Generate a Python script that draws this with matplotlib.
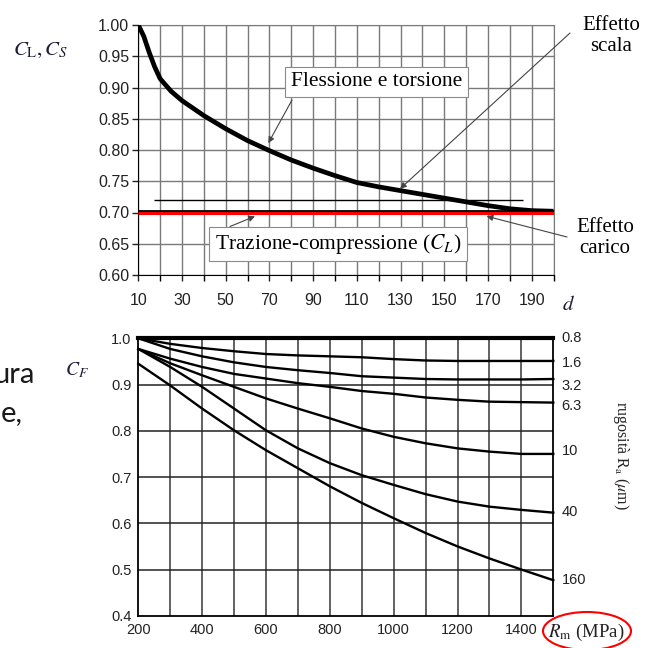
import matplotlib.pyplot as plt
from matplotlib.patches import Ellipse

plt.rcParams['mathtext.fontset'] = 'stix'

# --- top chart: size effect factor C_S vs diameter d ---
d = [10, 12.5, 15, 17.5, 20, 25, 30, 40, 50, 60, 70, 80, 90, 100, 110, 120,
     130, 140, 150, 160, 170, 180, 190, 200]
c_s = [1.00, 0.982, 0.956, 0.933, 0.914, 0.894, 0.879, 0.855, 0.834, 0.815, 0.799,
       0.784, 0.771, 0.759, 0.748, 0.741, 0.735, 0.729, 0.723, 0.717, 0.711,
       0.706, 0.703, 0.702]
c_l = 0.70
ref_level = 0.72
ref_span = [17, 186]

# --- bottom chart: surface factor C_F vs Rm for several roughness values ---
rm = [200, 300, 400, 500, 600, 700, 800, 900, 1000, 1100, 1200, 1300, 1400, 1500]
roughness = ['0.8', '1.6', '3.2', '6.3', '10', '40', '160']
cf_08 = [1.0] * 14
cf_16 = [1.0, 0.988, 0.979, 0.972, 0.966, 0.963, 0.961, 0.959, 0.955, 0.952, 0.951, 0.951, 0.951, 0.951]
cf_32 = [1.0, 0.977, 0.961, 0.948, 0.938, 0.931, 0.925, 0.918, 0.915, 0.912, 0.911, 0.911, 0.911, 0.912]
cf_63 = [0.977, 0.956, 0.938, 0.923, 0.913, 0.903, 0.895, 0.886, 0.880, 0.872, 0.867, 0.863, 0.862, 0.861]
cf_10 = [0.977, 0.946, 0.920, 0.895, 0.870, 0.848, 0.827, 0.805, 0.787, 0.773, 0.762, 0.755, 0.750, 0.750]
cf_40 = [0.977, 0.938, 0.895, 0.848, 0.801, 0.762, 0.730, 0.704, 0.683, 0.663, 0.647, 0.636, 0.629, 0.623]
cf_160 = [0.945, 0.898, 0.848, 0.801, 0.758, 0.719, 0.680, 0.644, 0.611, 0.579, 0.550, 0.524, 0.500, 0.477]
label_y = [1.0, 0.947, 0.897, 0.854, 0.757, 0.624, 0.478]

W, H = 654, 648
fig = plt.figure(figsize=(W / 100, H / 100), dpi=100)

# ---------------- top axes ----------------
ax1 = fig.add_axes([138.3 / W, 1 - 275 / H, 415.2 / W, 250 / H])
ax1.set_xlim(10, 200)
ax1.set_ylim(0.60, 1.00)
ax1.set_xticks(range(10, 200, 20))
ax1.set_xticks(range(20, 201, 20), minor=True)
ax1.set_yticks([0.60 + 0.05 * i for i in range(9)])
ax1.set_yticklabels(['%.2f' % (0.60 + 0.05 * i) for i in range(9)])
for v in range(10, 201, 10):
    ax1.axvline(v, color='#7a7a7a', lw=1.0, zorder=1)
for i in range(9):
    ax1.axhline(0.60 + 0.05 * i, color='#7a7a7a', lw=1.0, zorder=1)
ax1.tick_params(direction='out', length=4, width=1, labelsize=11.5, colors='#222222')
ax1.tick_params(axis='x', pad=9)
ax1.tick_params(axis='y', pad=2.5)
ax1.tick_params(which='minor', direction='out', length=4, width=1)
for lab in ax1.get_xticklabels() + ax1.get_yticklabels():
    lab.set_fontfamily('Liberation Sans')
ax1.spines['top'].set_color('#7a7a7a')
ax1.spines['right'].set_color('#7a7a7a')

ax1.hlines(ref_level, ref_span[0], ref_span[1], color='black', lw=1.0, zorder=2)
ax1.hlines(c_l + 0.002, 10, 200, color='black', lw=2.0, zorder=3)
ax1.plot(d, c_s, color='black', lw=3.4, solid_capstyle='butt', solid_joinstyle='round', zorder=4)
ax1.hlines(c_l - 0.0015, 10, 200, color='red', lw=2.2, zorder=5)

ax1.text(376.5 / W, 1 - 82 / H, 'Flessione e torsione', transform=fig.transFigure,
         family='Liberation Serif', fontsize=15.5, ha='center', va='center', zorder=6,
         bbox=dict(boxstyle='square,pad=0.25', fc='white', ec='#8a8a8a', lw=0.8))
ax1.text(338 / W, 1 - 244 / H, 'Trazione-compressione ($C_L$)', transform=fig.transFigure,
         family='Liberation Serif', fontsize=15.5, ha='center', va='center', zorder=6,
         bbox=dict(boxstyle='square,pad=0.25', fc='white', ec='#8a8a8a', lw=0.8))

arrow = dict(arrowstyle='-|>', color='#444444', lw=0.8, mutation_scale=9, shrinkA=0, shrinkB=0)
ax1.annotate('', xy=(69.5, 0.811), xytext=(292, H - 100), textcoords='figure pixels',
             arrowprops=arrow, zorder=7)
ax1.annotate('', xy=(63.4, 0.694), xytext=(230, H - 226.5), textcoords='figure pixels',
             arrowprops=arrow, zorder=7)
ax1.annotate('', xy=(129.8, 0.738), xytext=(570, H - 33), textcoords='figure pixels',
             arrowprops=arrow, zorder=7, annotation_clip=False)
ax1.annotate('', xy=(169.4, 0.694), xytext=(567, H - 237), textcoords='figure pixels',
             arrowprops=arrow, zorder=7, annotation_clip=False)

fig.text(611 / W, 1 - 36 / H, 'Effetto\nscala', family='Liberation Serif', fontsize=15,
         ha='center', va='center', linespacing=1.15)
fig.text(605 / W, 1 - 238 / H, 'Effetto\ncarico', family='Liberation Serif', fontsize=15,
         ha='center', va='center', linespacing=1.15)
fig.text(41 / W, 1 - 50 / H, r'$C_{\mathrm{L}},C_S$', fontsize=15, ha='center', va='center',
         color='#1c1c3a')
fig.text(568 / W, 1 - 304 / H, r'$d$', fontsize=15, ha='center', va='center', color='#1c1c3a')

# ---------------- bottom axes ----------------
ax2 = fig.add_axes([138.3 / W, 1 - 615.8 / H, 415.0 / W, 277.5 / H])
ax2.set_xlim(200, 1500)
ax2.set_ylim(0.4, 1.0)
ax2.set_xticks(range(200, 1401, 200))
ax2.set_yticks([0.4, 0.5, 0.6, 0.7, 0.8, 0.9, 1.0])
ax2.set_yticklabels(['0.4', '0.5', '0.6', '0.7', '0.8', '0.9', '1.0'])
for v in range(300, 1500, 100):
    ax2.axvline(v, color='#555555', lw=1.3, zorder=1)
for v in [0.5, 0.6, 0.7, 0.8, 0.9]:
    ax2.axhline(v, color='#222222', lw=1.1, zorder=1)
ax2.tick_params(length=0, labelsize=10.5, colors='#222222', pad=5)
for lab in ax2.get_xticklabels() + ax2.get_yticklabels():
    lab.set_fontfamily('Liberation Sans')
for s in ax2.spines.values():
    s.set_linewidth(1.3)

curves = [cf_08, cf_16, cf_32, cf_63, cf_10, cf_40, cf_160]
for i, cf in enumerate(curves):
    ax2.plot(rm, cf, color='black', lw=3.0 if i == 0 else 1.7, solid_joinstyle='round',
             zorder=3, clip_on=False)
for name, y in zip(roughness, label_y):
    ax2.text(1.02, (y - 0.4) / 0.6, name, transform=ax2.transAxes, ha='left', va='center',
             family='Liberation Sans', fontsize=10.5, color='#222222')

fig.text(77 / W, 1 - 370 / H, r'$C_F$', fontsize=14, ha='center', va='center', color='#1c1c3a')
fig.text(621 / W, 1 - 455 / H, r'rugosità R$_{\mathrm{a}}$ ($\mu$m)', family='Liberation Serif',
         fontsize=11.5, rotation=-90, ha='center', va='center', color='#2a2222')
fig.text(586 / W, 1 - 632 / H, r'$R_{\mathrm{m}}$ (MPa)', family='Liberation Serif',
         fontsize=13.5, ha='center', va='center', color='#222222')
fig.add_artist(Ellipse((587 / W, 1 - 631 / H), 88 / W, 38 / H, transform=fig.transFigure,
                       fill=False, edgecolor='red', lw=1.5))

# slide text fragments on the left
fig.text(-7 / W, 1 - 375 / H, 'ura', family='Lato', fontsize=21, ha='left', va='center',
         color='#1a1a1a')
fig.text(1 / W, 1 - 413 / H, 'e,', family='Lato', fontsize=21, ha='left', va='center',
         color='#1a1a1a')

fig.savefig('out.png', dpi=100)
